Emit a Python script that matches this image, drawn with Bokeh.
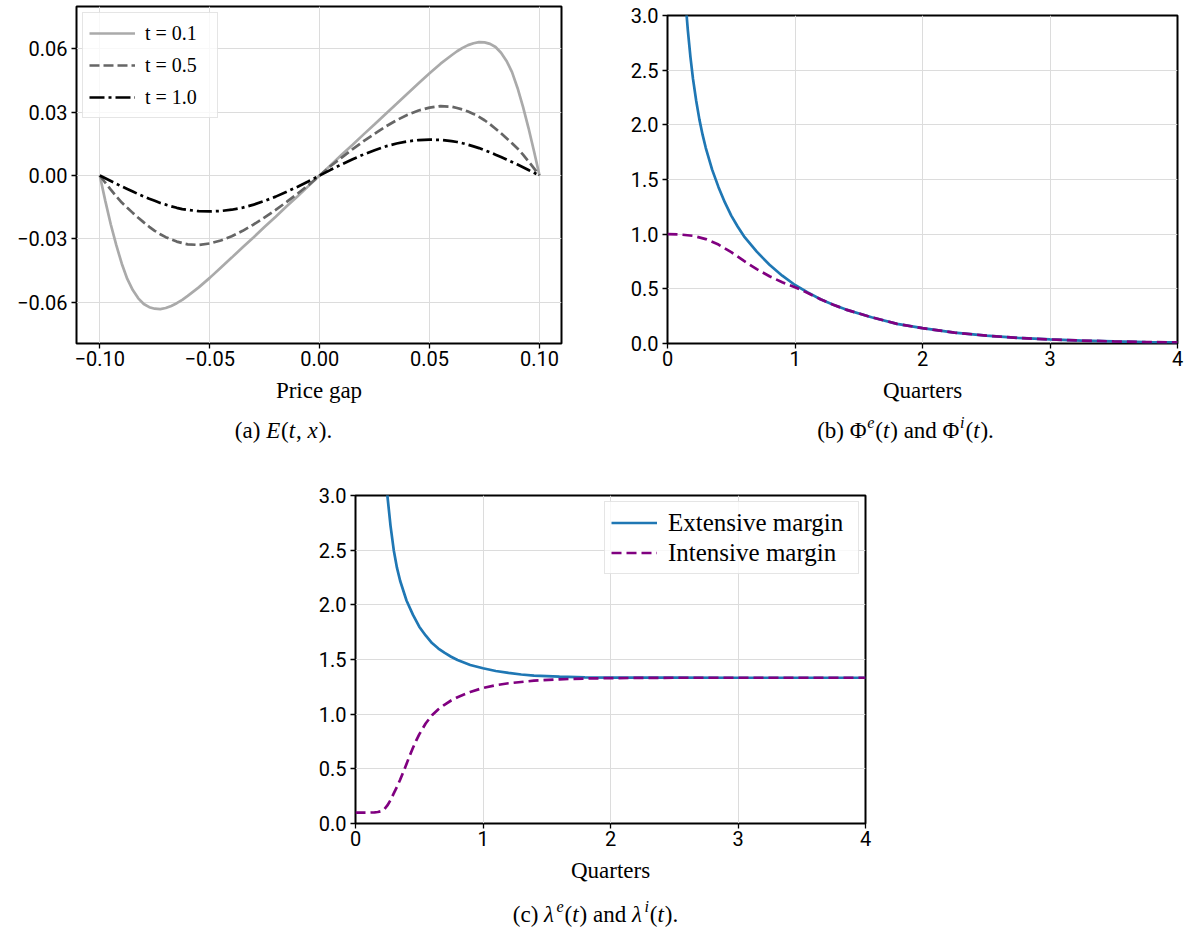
from bokeh.plotting import figure
from bokeh.models import Range1d, FixedTicker, CustomJSTickFormatter, Label, Spacer
from bokeh.layouts import row, column
from bokeh.embed import file_html
from bokeh.resources import INLINE

# ---------------- data ----------------
# (a) E(t, x) against the price gap
price_gap = [-0.1, -0.0975, -0.095, -0.0925, -0.09, -0.0875, -0.085, -0.0825, -0.08,
             -0.0775, -0.075, -0.0725, -0.07, -0.0675, -0.065, -0.0625, -0.06, -0.055,
             -0.05, -0.045, -0.04, -0.035, -0.03, -0.025, -0.02, -0.015, -0.01, -0.005,
             0.0,
             0.005, 0.01, 0.015, 0.02, 0.025, 0.03, 0.035, 0.04, 0.045, 0.05, 0.055, 0.06,
             0.0625, 0.065, 0.0675, 0.07, 0.0725, 0.075, 0.0775, 0.08, 0.0825, 0.085,
             0.0875, 0.09, 0.0925, 0.095, 0.0975, 0.1]
E_t01 = [0.0, -0.0120, -0.0232, -0.0330, -0.0418, -0.0490, -0.0543, -0.0582, -0.0609,
         -0.0624, -0.0631, -0.0633, -0.0628, -0.0618, -0.0605, -0.0589, -0.0570, -0.0530,
         -0.0485, -0.0437, -0.0389, -0.0340, -0.0292, -0.0243, -0.0195, -0.0146, -0.0098,
         -0.0049,
         0.0,
         0.0049, 0.0098, 0.0146, 0.0195, 0.0243, 0.0292, 0.0340, 0.0389, 0.0437, 0.0485,
         0.0530, 0.0570, 0.0589, 0.0605, 0.0618, 0.0627, 0.0632, 0.0631, 0.0624, 0.0609,
         0.0582, 0.0543, 0.0490, 0.0415, 0.0325, 0.0225, 0.0115, 0.0]
E_t05 = [0.0, -0.0034, -0.0067, -0.0099, -0.0128, -0.0153, -0.0177, -0.0200, -0.0222,
         -0.0243, -0.0262, -0.0278, -0.0292, -0.0303, -0.0313, -0.0320, -0.0326, -0.0329,
         -0.0322, -0.0308, -0.0288, -0.0262, -0.0232, -0.0198, -0.0163, -0.0125, -0.0085,
         -0.0045,
         0.0,
         0.0045, 0.0085, 0.0125, 0.0163, 0.0198, 0.0232, 0.0262, 0.0288, 0.0308, 0.0322,
         0.0329, 0.0326, 0.0320, 0.0313, 0.0303, 0.0292, 0.0278, 0.0262, 0.0243, 0.0222,
         0.0200, 0.0177, 0.0153, 0.0128, 0.0099, 0.0067, 0.0034, 0.0]
E_t10 = [0.0, -0.0013, -0.0026, -0.0039, -0.0052, -0.0064, -0.0076, -0.0088, -0.0099,
         -0.0110, -0.0120, -0.0130, -0.0138, -0.0146, -0.0153, -0.0159, -0.0163, -0.0169,
         -0.0170, -0.0168, -0.0162, -0.0152, -0.0138, -0.0120, -0.0100, -0.0077, -0.0053,
         -0.0027,
         0.0,
         0.0027, 0.0053, 0.0077, 0.0100, 0.0120, 0.0138, 0.0152, 0.0162, 0.0168, 0.0170,
         0.0169, 0.0163, 0.0159, 0.0153, 0.0146, 0.0138, 0.0130, 0.0120, 0.0110, 0.0099,
         0.0088, 0.0076, 0.0064, 0.0052, 0.0039, 0.0026, 0.0013, 0.0]
names_a = ["t = 0.1", "t = 0.5", "t = 1.0"]

# (b) Phi^e(t) and Phi^i(t)
t_phi_e = [0.12, 0.13, 0.14, 0.15, 0.16, 0.18, 0.2, 0.225, 0.25, 0.275, 0.3, 0.35, 0.4,
           0.45, 0.5, 0.55, 0.6, 0.7, 0.8, 0.9, 1.0, 1.1, 1.2, 1.3, 1.4, 1.6, 1.8, 2.0,
           2.25, 2.5, 2.75, 3.0, 3.25, 3.5, 3.75, 4.0]
phi_e = [3.55, 3.35, 3.17, 3.0, 2.86, 2.62, 2.42, 2.22, 2.05, 1.91, 1.79, 1.59, 1.43,
         1.29, 1.17, 1.07, 0.98, 0.84, 0.72, 0.62, 0.535, 0.468, 0.405, 0.355, 0.31,
         0.24, 0.18, 0.14, 0.10, 0.072, 0.051, 0.037, 0.027, 0.019, 0.013, 0.010]
t_phi_i = [0.0, 0.1, 0.2, 0.3, 0.4, 0.5, 0.6, 0.7, 0.8, 0.9, 1.0, 1.1, 1.2, 1.3, 1.4, 1.6,
           1.8, 2.0, 2.25, 2.5, 2.75, 3.0, 3.25, 3.5, 3.75, 4.0]
phi_i = [1.0, 0.997, 0.985, 0.955, 0.905, 0.835, 0.755, 0.68, 0.615, 0.56, 0.515, 0.462,
         0.405, 0.355, 0.31, 0.24, 0.18, 0.14, 0.10, 0.072, 0.051, 0.037, 0.027, 0.019,
         0.013, 0.010]

# (c) lambda^e(t) and lambda^i(t)
t_lam_e = [0.23, 0.25, 0.275, 0.3, 0.325, 0.35, 0.4, 0.45, 0.5, 0.55, 0.6, 0.65, 0.7, 0.75,
           0.8, 0.9, 1.0, 1.1, 1.2, 1.3, 1.4, 1.6, 1.8, 2.0, 2.5, 3.0, 3.5, 4.0]
lam_e = [3.3, 3.0, 2.72, 2.5, 2.34, 2.22, 2.04, 1.91, 1.80, 1.72, 1.65, 1.60, 1.56, 1.525,
         1.495, 1.45, 1.42, 1.395, 1.377, 1.363, 1.353, 1.343, 1.337, 1.335, 1.334, 1.333,
         1.333, 1.333]
t_lam_i = [0.0, 0.1, 0.15, 0.175, 0.2, 0.225, 0.25, 0.275, 0.3, 0.325, 0.35, 0.375, 0.4,
           0.425, 0.45, 0.475, 0.5, 0.55, 0.6, 0.65, 0.7, 0.75, 0.8, 0.9, 1.0, 1.1, 1.2,
           1.4, 1.6, 1.8, 2.0, 2.5, 3.0, 3.5, 4.0]
lam_i = [0.1, 0.1, 0.102, 0.105, 0.112, 0.13, 0.165, 0.215, 0.275, 0.335, 0.40, 0.47,
         0.545, 0.62, 0.69, 0.755, 0.815, 0.915, 0.99, 1.045, 1.088, 1.125, 1.155, 1.203,
         1.24, 1.265, 1.283, 1.306, 1.319, 1.326, 1.330, 1.333, 1.333, 1.333, 1.333]
names_c = ["Extensive margin", "Intensive margin"]

xticks_a = [-0.10, -0.05, 0.0, 0.05, 0.10]
yticks_a = [-0.06, -0.03, 0.0, 0.03, 0.06]
quarter_ticks = [0, 1, 2, 3, 4]
rate_ticks = [0.0, 0.5, 1.0, 1.5, 2.0, 2.5, 3.0]
xlabel_a = "Price gap"
xlabel_t = "Quarters"

SERIF = "Liberation Serif"
SANS = "Roboto"
BLUE = "#1f77b4"
PURPLE = "#800080"


def fmt(d):
    return CustomJSTickFormatter(code="return tick.toFixed(%d).replace('-', '\u2212');" % d)


def style(p, xt, yt, xd, yd):
    p.outline_line_color = "black"
    p.outline_line_width = 2
    p.xaxis.ticker = FixedTicker(ticks=xt, minor_ticks=[])
    p.yaxis.ticker = FixedTicker(ticks=yt, minor_ticks=[])
    p.xaxis.formatter = fmt(xd)
    p.yaxis.formatter = fmt(yd)
    for ax in (p.xaxis[0], p.yaxis[0]):
        ax.axis_line_color = None
        ax.major_tick_out = 5
        ax.major_tick_in = 0
        ax.major_tick_line_width = 1.3
        ax.major_tick_line_color = "black"
        ax.minor_tick_line_color = None
        ax.major_label_text_font = SANS
        ax.major_label_text_font_size = "20px"
        ax.major_label_text_color = "black"
    p.xaxis.major_label_standoff = 2
    p.yaxis.major_label_standoff = 4
    p.xgrid.grid_line_color = "#dcdcdc"
    p.ygrid.grid_line_color = "#dcdcdc"


W_R = {"(": .333, ")": .333, " ": .25, ".": .25, ",": .25, "a": .444, "b": .5, "c": .444,
       "d": .5, "n": .5, "\u03a6": .76}
W_I = {"E": .611, "t": .278, "x": .444, "e": .444, "i": .278, "\u03bb": .5}


def strip_fig(width, height, bl, br, xlabel, lab_base, segs, cx, base, size=23):
    # strip under a plot holding its x-axis label and its caption; it shares the
    # frame (bl .. width-br) of the plot above; x is in pixels from that frame's left
    fw = width - bl - br
    c = figure(width=width, height=height, x_range=Range1d(0, fw),
               y_range=Range1d(0, height), x_axis_type=None, y_axis_type=None,
               output_backend="svg", toolbar_location=None,
               min_border_left=bl, min_border_right=br, min_border_top=0,
               min_border_bottom=0, outline_line_color=None)
    c.add_layout(Label(x=fw / 2, y=lab_base, text=xlabel, text_font=SERIF,
                       text_font_size="23px", text_baseline="alphabetic",
                       text_align="center", text_color="black"))
    items = []
    total = 0.0
    for text, ital, sup in segs:
        fs = size * 0.7 if sup else size
        tab = W_I if ital else W_R
        w = sum(tab.get(ch, .5) for ch in text) * fs + (0.04 * size if ital else 0)
        items.append((text, ital, sup, fs, w))
        total += w
    x = cx - bl - total / 2
    for text, ital, sup, fs, w in items:
        c.add_layout(Label(x=x, y=base + (size * 0.36 if sup else 0), text=text,
                           text_font=SERIF, text_font_size="%.1fpx" % fs,
                           text_font_style="italic" if ital else "normal",
                           text_baseline="alphabetic", text_align="left",
                           text_color="black"))
        x += w
    return c


def legend_style(lg, size, lw, standoff):
    lg.margin = 6
    lg.padding = 6
    lg.glyph_width = 46
    lg.label_standoff = standoff
    lg.label_text_font = SERIF
    lg.label_text_font_size = size
    lg.label_text_color = "black"
    lg.label_width = lw
    lg.border_line_color = "#cccccc"
    lg.border_line_width = 1
    lg.background_fill_alpha = 0.8


# ---------------- panel (a) ----------------
pa = figure(width=598, height=375, x_range=Range1d(-0.1106, 0.1100),
            y_range=Range1d(-0.0796, 0.0801), output_backend="svg", toolbar_location=None,
            min_border_left=76, min_border_right=37, min_border_top=6, min_border_bottom=32)
pa.line(price_gap, E_t01, line_color="#aaaaaa", line_width=2.7, legend_label=names_a[0])
pa.line(price_gap, E_t05, line_color="#666666", line_width=2.7, line_dash="10 4",
        legend_label=names_a[1])
pa.line(price_gap, E_t10, line_color="black", line_width=2.7, line_dash="15 4 3 4",
        legend_label=names_a[2])
style(pa, xticks_a, yticks_a, 2, 2)
lga = pa.legend[0]
lga.location = "top_left"
legend_style(lga, "20px", 66, 10)
lga.spacing = 4
lga.glyph_height = 28
lga.label_height = 28
cap_a = strip_fig(598, 85, 76, 37, xlabel_a, 70,
                  [("(a) ", False, False), ("E", True, False), ("(", False, False),
                   ("t", True, False), (", ", False, False), ("x", True, False),
                   (").", False, False)], 283, 30)

# ---------------- panel (b) ----------------
pb = figure(width=586, height=375, x_range=Range1d(0, 4), y_range=Range1d(0, 3),
            output_backend="svg", toolbar_location=None,
            min_border_left=69, min_border_right=7, min_border_top=15, min_border_bottom=32)
pb.line(t_phi_e, phi_e, line_color=BLUE, line_width=2.7)
pb.line(t_phi_i, phi_i, line_color=PURPLE, line_width=2.7, line_dash="10 5")
style(pb, quarter_ticks, rate_ticks, 0, 1)
cap_b = strip_fig(586, 85, 69, 7, xlabel_t, 70,
                  [("(b) \u03a6", False, False), ("e", True, True), ("(", False, False),
                   ("t", True, False), (") and \u03a6", False, False), ("i", True, True),
                   ("(", False, False), ("t", True, False), (").", False, False)],
                  307, 30)

# ---------------- panel (c) ----------------
pc = figure(width=597, height=395, x_range=Range1d(0, 4), y_range=Range1d(0, 3),
            output_backend="svg", toolbar_location=None,
            min_border_left=67, min_border_right=20, min_border_top=35, min_border_bottom=32)
pc.line(t_lam_e, lam_e, line_color=BLUE, line_width=2.7, legend_label=names_c[0])
pc.line(t_lam_i, lam_i, line_color=PURPLE, line_width=2.7, line_dash="10 5",
        legend_label=names_c[1])
style(pc, quarter_ticks, rate_ticks, 0, 1)
lgc = pc.legend[0]
lgc.location = "top_right"
legend_style(lgc, "25px", 184, 11)
lgc.spacing = 1
lgc.glyph_height = 29
lgc.label_height = 29
cap_c = strip_fig(597, 76, 67, 20, xlabel_t, 61,
                  [("(c) ", False, False), ("\u03bb", True, False), ("e", True, True),
                   ("(", False, False), ("t", True, False), (") and ", False, False),
                   ("\u03bb", True, False), ("i", True, True), ("(", False, False),
                   ("t", True, False), (").", False, False)], 307, 17)

layout = column(row(column(pa, cap_a), column(pb, cap_b)),
                row(Spacer(width=288, height=471), column(pc, cap_c)))
open("out.html", "w").write(file_html(layout, INLINE))
